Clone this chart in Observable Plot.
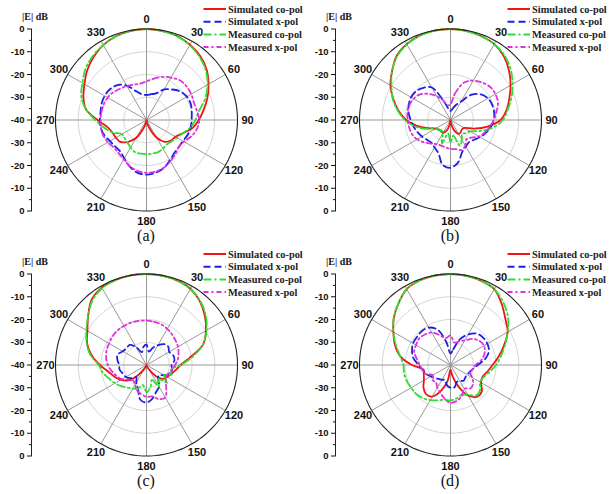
<!DOCTYPE html>
<html><head><meta charset="utf-8">
<script src="https://cdn.jsdelivr.net/npm/d3@7"></script>
<script src="https://cdn.jsdelivr.net/npm/@observablehq/plot@0.6"></script>
<style>
body{margin:0;background:#fff;}
#fig{position:relative;width:616px;height:494px;overflow:hidden;background:#fff}
#fig svg{position:absolute;overflow:visible}
</style></head><body><div id="fig"></div>
<script>
// angles (deg) at which each pattern value is read
const angles = d3.range(0, 360, 10);
const spokeAngles = d3.range(0, 360, 30);
const ringLevels = [-10, -20, -30];
const radialTicks = [40, 30, 20, 10, 0, -10, -20, -30, -40];
const minorTicks = [35, 25, 15, 5, -5, -15, -25, -35];
const seriesNames = ["Simulated co-pol", "Simulated x-pol", "Measured co-pol", "Measured x-pol"];
const seriesColors = ["#f01414", "#1e1ee6", "#30dd30", "#e030e0"];
const seriesDash = [null, "7,4", "8,3,2,3", "5,3,2,3"];
const panelLabels = ["(a)", "(b)", "(c)", "(d)"];

// panel (a)
const aSimCo  = [0,-0.2,-0.7,-1.8,-3.3,-5.5,-8.5,-11.5,-14.5,-17,-19.5,-23,-25.3,-26,-27.5,-31,-36,-39,-40,-39,-36,-31,-27.5,-25,-24.5,-24,-22.5,-18.5,-13,-10.5,-8.5,-6,-3.8,-2,-0.8,-0.2];
const aSimX   = [-29,-28.5,-27.5,-24.5,-22.5,-20.5,-19.5,-19.3,-19.8,-20.2,-20.3,-20.8,-21.5,-21.5,-21,-19.5,-17.6,-16.5,-16,-16.5,-18.3,-20.5,-22,-22,-21.5,-20.3,-19.6,-19.5,-19.5,-19,-18.8,-19,-20,-22.5,-26.5,-28.5];
const aMeasCo = [0,-0.3,-0.8,-2,-3.8,-6,-9,-12.5,-16.5,-18.5,-20.5,-23,-24.5,-25.5,-26,-25.5,-25,-25,-25,-25,-25,-26,-27,-27.5,-27.5,-24,-21,-17.5,-13,-9.5,-7.5,-5,-3.3,-2,-0.8,-0.2];
const aMeasX  = [-23,-21.5,-19.8,-18.5,-17.2,-17,-17.3,-17.8,-17.5,-16.8,-17.5,-19,-21,-21.5,-20.3,-19,-17.7,-17,-16.8,-17.3,-18.5,-20,-21,-21.2,-20.5,-19.8,-19.7,-19.8,-19.9,-20,-20.3,-21,-22,-22.8,-23.5,-23.8];
// panel (b)
const bSimCo  = [0,-0.2,-0.7,-1.5,-3.5,-6.4,-9.5,-12.5,-15,-18,-23.5,-29,-33,-33.5,-33,-33,-35,-38,-40,-38,-35,-33.5,-33.5,-33.5,-32.5,-29.5,-25,-20.5,-16.8,-13.3,-9.5,-6.5,-3.2,-1.5,-0.5,-0.1];
const bSimX   = [-36,-35,-33,-30.5,-25.5,-22.5,-21,-20.5,-20.5,-21,-22,-23.5,-25,-26.5,-27.3,-26.5,-25,-21,-19,-20,-24.5,-26,-27,-26.5,-25.5,-24.5,-23.5,-22.5,-21.3,-20.5,-20,-20.3,-21.5,-23.5,-31,-35];
const bMeasCo = [0,-0.3,-0.8,-1.5,-3,-5.5,-8.5,-11.5,-14.5,-17,-21,-26,-30,-31,-32,-30,-28,-33,-30,-34,-29,-33,-34,-33,-33,-28.5,-24,-20,-16.5,-13,-10,-6.5,-3.5,-1.7,-0.6,-0.1];
const bMeasX  = [-33,-28,-22.5,-20,-18.5,-17.3,-17.2,-17.8,-19.5,-21,-22.5,-24,-25.5,-28,-29,-27,-26,-27,-27.3,-27.8,-28,-27.8,-26.5,-24.8,-23,-22,-21.5,-21.2,-20.8,-20.8,-21.3,-22.5,-25,-28,-31,-33.5];
// panel (c)
const cSimCo  = [0,-0.1,-0.5,-1.3,-3.5,-6.5,-9.8,-13.5,-20.5,-25,-27,-28.5,-29.5,-30.5,-33.5,-37.5,-39,-40,-40,-40,-39.5,-38,-34,-29.5,-27,-25,-23,-19.5,-15.5,-12.2,-10,-6.5,-2.5,-0.7,-0.2,0];
const cSimX   = [-31,-34,-32,-30,-28,-27.5,-28.5,-27.5,-27.5,-29,-28.5,-29,-31,-33,-32,-29,-27.5,-25,-23.5,-24.5,-29,-31,-33,-31,-29.5,-29,-28,-28,-27,-26.5,-28,-28.5,-28.5,-31,-34,-32];
const cMeasCo = [0,-0.2,-0.6,-1.5,-3.3,-6,-9.5,-13.5,-19.5,-25,-29,-28,-31,-28,-32,-29,-33,-30,-28,-31,-29,-28,-27,-25.5,-24,-22.5,-20.5,-19,-15,-12,-9.5,-6.5,-3,-1,-0.3,0];
const cMeasX  = [-20.5,-20.7,-21,-21.7,-22.5,-23.3,-24,-25,-26,-27.5,-28.5,-29.5,-30,-29,-26.5,-23.5,-24,-26,-26,-27,-28,-30,-31,-30,-27.5,-26,-24.5,-23,-22,-21.3,-21,-20.5,-20.2,-20.2,-20.2,-20.3];
// panel (d)
const dSimCo  = [0,-0.2,-0.6,-1.5,-5,-8.5,-11,-15,-18.5,-21.5,-23.5,-25,-24.5,-22,-21.8,-24.5,-30,-35,-38,-33,-28,-24,-23.3,-24.5,-26.5,-27.5,-28,-23,-17.5,-14,-11,-7.5,-4.5,-1.5,-0.5,-0.1];
const dSimX   = [-35,-33,-28,-24.5,-22,-21.3,-21.3,-22,-24.5,-28,-30,-31,-31.5,-31.5,-31,-32,-32,-30,-30,-31,-33,-32.5,-32,-31,-30,-28.5,-27.5,-26,-23.5,-22,-21,-20.8,-20.5,-21,-23.5,-30];
const dMeasCo = [0,-0.2,-0.6,-1.5,-4,-7,-11,-14.5,-17.5,-20,-22.5,-24.5,-25,-23,-22.5,-25,-26,-25,-24.5,-24.5,-23.5,-22.2,-21,-20.3,-20,-19.5,-19.3,-19.3,-17.5,-14.5,-11,-7.5,-4.5,-1.5,-0.5,-0.1];
const dMeasX  = [-27,-30,-29,-27.5,-25,-23.5,-23,-24,-26,-29,-30,-31,-29,-27,-26.5,-28,-25.5,-24,-23.4,-25,-27,-28.5,-30,-29.7,-31,-28.5,-27.5,-26.5,-25,-23,-22.5,-22,-22.5,-23.5,-26,-28];

const panels = [
  {label: panelLabels[0], series: [aSimCo, aSimX, aMeasCo, aMeasX], left: 0,     top: 0},
  {label: panelLabels[1], series: [bSimCo, bSimX, bMeasCo, bMeasX], left: 303.5, top: 0},
  {label: panelLabels[2], series: [cSimCo, cSimX, cMeasCo, cMeasX], left: 0,     top: 245},
  {label: panelLabels[3], series: [dSimCo, dSimX, dMeasCo, dMeasX], left: 303.5, top: 245}
];

const rad = a => a * Math.PI / 180;
const px = (r, a) => r * Math.sin(rad(a));
const py = (r, a) => r * Math.cos(rad(a));
const rho = db => Math.max(0, db + 40);

const gridRows = ringLevels.flatMap(l => d3.range(0, 360, 3).map(a => ({a, r: rho(l), l})));
const outerRows = d3.range(0, 360, 2).map(a => ({a, r: rho(0)}));
const serif = "'Liberation Serif', 'Times New Roman', serif";

function makePanel(p) {
  const seriesMarks = p.series.map((vals, si) => {
    const rows = vals.map((db, i) => ({a: angles[i], r: rho(db)}));
    return Plot.line(rows, {
      x: d => px(d.r, d.a), y: d => py(d.r, d.a),
      stroke: seriesColors[si], strokeWidth: 1.8,
      strokeDasharray: seriesDash[si] ?? undefined,
      curve: "catmull-rom-closed"
    });
  });
  const svg = Plot.plot({
    width: 310, height: 247,
    marginLeft: 31, marginTop: 28.5, marginBottom: 36.5, marginRight: 10,
    x: {domain: [-40, 40], range: [55, 237], axis: null},
    y: {domain: [-40, 40], label: null},
    style: {fontFamily: "'Liberation Sans', Arial, sans-serif", fontWeight: "bold", fontSize: "11px", background: "transparent", color: "#111"},
    marks: [
      Plot.line(gridRows, {x: d => px(d.r, d.a), y: d => py(d.r, d.a), z: "l", stroke: "#cfcfcf", strokeWidth: 0.9, curve: "linear-closed"}),
      Plot.link(spokeAngles, {x1: 0, y1: 0, x2: a => px(40, a), y2: a => py(40, a), stroke: "#999", strokeWidth: 1}),
      ...seriesMarks,
      Plot.line(outerRows, {x: d => px(d.r, d.a), y: d => py(d.r, d.a), stroke: "#222", strokeWidth: 1.1, curve: "linear-closed"}),
      Plot.text(spokeAngles, {x: a => px(44.4, a), y: a => py(44.4, a), text: a => String(a), fontSize: 11, fontWeight: "bold", fill: "#111"}),
      Plot.axisY(radialTicks, {anchor: "left", tickSize: 4, tickPadding: 3, tickFormat: d => String(Math.abs(d) - 40), fontSize: 9.5, label: null}),
      Plot.axisY(minorTicks, {anchor: "left", tickSize: 2, tickFormat: () => "", label: null}),
      Plot.frame({anchor: "left", stroke: "#222"})
    ]
  });
  svg.style.left = p.left + "px";
  svg.style.top = p.top + "px";
  const g = d3.select(svg).append("g");
  g.append("text").attr("x", 35).attr("y", 20).attr("text-anchor", "middle")
    .attr("font-family", serif).attr("font-size", 10).attr("font-weight", "bold")
    .text("|E| dB");
  seriesNames.forEach((name, i) => {
    const y = 9 + i * 12.7;
    g.append("line").attr("x1", 203.5).attr("x2", 226).attr("y1", y).attr("y2", y)
      .attr("stroke", seriesColors[i]).attr("stroke-width", 2)
      .attr("stroke-dasharray", seriesDash[i]);
    g.append("text").attr("x", 228).attr("y", y + 3.5).attr("text-anchor", "start")
      .attr("font-family", serif).attr("font-size", 10.4).attr("font-weight", "bold")
      .attr("fill", "#222").text(name);
  });
  g.append("text").attr("x", 146).attr("y", 241).attr("text-anchor", "middle")
    .attr("font-family", serif).attr("font-size", 16).attr("font-weight", "normal")
    .attr("fill", "#111").text(p.label);
  document.getElementById("fig").appendChild(svg);
}
panels.forEach(makePanel);
</script></body></html>
